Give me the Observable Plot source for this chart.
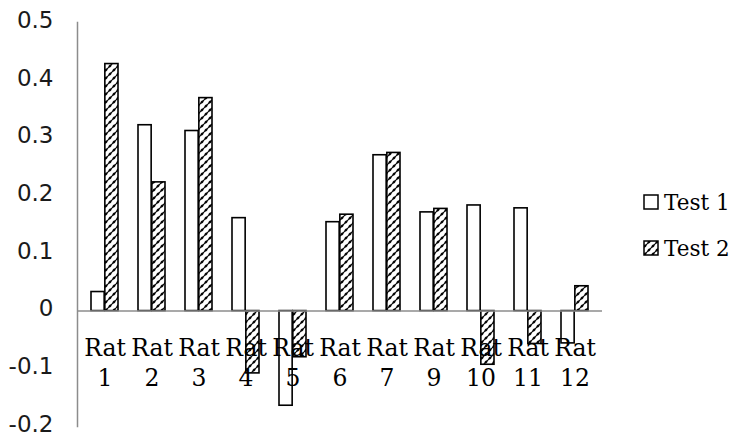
<!DOCTYPE html>
<html>
<head>
<meta charset="utf-8">
<script src="https://cdn.jsdelivr.net/npm/d3@7"></script>
<script src="https://cdn.jsdelivr.net/npm/@observablehq/plot@0.6"></script>
<style>
  html, body { margin: 0; padding: 0; background: #fff; }
  #wrap { position: relative; width: 734px; height: 436px; }
  #legend { position: absolute; left: 643px; top: 0; font-family: "DejaVu Serif", serif; font-size: 21.5px; color: #000; }
  .item { position: absolute; left: 0; white-space: nowrap; display: flex; align-items: center; }
  .item svg { margin-right: 5px; }
</style>
</head>
<body>
<svg width="0" height="0" style="position:absolute">
  <defs>
    <pattern id="hatch" patternUnits="userSpaceOnUse" width="8" height="8">
      <rect width="8" height="8" fill="white"/>
      <path d="M-1,1 l2,-2 M0,8 l8,-8 M7,9 l2,-2" stroke="black" stroke-width="1.1"/>
      <path d="M1,7 l2,-2 M5,3 l2,-2" stroke="black" stroke-width="2.2"/>
    </pattern>
  </defs>
</svg>
<div id="wrap">
  <div id="chart"></div>
  <div id="legend"></div>
</div>
<script>
const rats = ["Rat 1","Rat 2","Rat 3","Rat 4","Rat 5","Rat 6","Rat 7","Rat 9","Rat 10","Rat 11","Rat 12"];
const test1 = [0.033, 0.322, 0.312, 0.161, -0.164, 0.154, 0.270, 0.171, 0.183, 0.178, -0.056];
const test2 = [0.428, 0.223, 0.369, -0.108, -0.080, 0.167, 0.274, 0.177, -0.093, -0.057, 0.043];
const seriesNames = ["Test 1", "Test 2"];
const yTicks = [-0.2, -0.1, 0, 0.1, 0.2, 0.3, 0.4, 0.5];
const yTickLabels = ["-0.2", "-0.1", "0", "0.1", "0.2", "0.3", "0.4", "0.5"];

const W = 734, H = 436;
const mL = 77, mR = 132, mT = 22, mB = 10;
const pInner = 0.42, pOuter = 0.21;
const step = (W - mL - mR) / (rats.length - pInner + 2 * pOuter);
const bw = step * (1 - pInner);

const chart = Plot.plot({
  width: W,
  height: H,
  marginLeft: mL,
  marginRight: mR,
  marginTop: mT,
  marginBottom: mB,
  style: { background: "white", overflow: "visible" },
  x: { domain: rats, paddingInner: pInner, paddingOuter: pOuter, axis: null },
  y: { domain: [-0.2, 0.5], axis: null },
  marks: [
    Plot.barY(rats, { x: d => d, y: (d, i) => test1[i], insetRight: bw / 2, fill: "white", stroke: "black", strokeWidth: 1.6 }),
    Plot.barY(rats, { x: d => d, y: (d, i) => test2[i], insetLeft: bw / 2, fill: "url(#hatch)", stroke: "black", strokeWidth: 1.6 }),
    Plot.ruleY([0], { stroke: "#8c8c8c", strokeWidth: 1.5 }),
    Plot.frame({ anchor: "left", stroke: "#8c8c8c", strokeWidth: 1.5 }),
    Plot.axisY({ ticks: yTicks, tickFormat: (d) => yTickLabels[yTicks.indexOf(d)], tickSize: 0, tickPadding: 24, fontSize: 23, fontFamily: "DejaVu Sans", fill: "#1a1a1a", label: null, dy: -2 }),
    Plot.text(rats, { x: d => d, y: () => 0, text: d => d.replace(" ", "\n"), dy: 50, lineAnchor: "middle", lineHeight: 1.3, fontSize: 23.5, fontFamily: "DejaVu Serif", fill: "#000" })
  ]
});
document.getElementById("chart").appendChild(chart);

const legend = document.getElementById("legend");
const legendY = [202, 248];
seriesNames.forEach((name, i) => {
  const item = document.createElement("div");
  item.className = "item";
  item.style.top = (legendY[i] - 13) + "px";
  item.style.height = "26px";
  const fill = i === 0 ? "white" : "url(#hatch)";
  item.innerHTML = `<svg width="16" height="16"><rect x="1" y="1" width="14" height="14" fill="${fill}" stroke="black" stroke-width="1.5"/></svg><span>${name}</span>`;
  legend.appendChild(item);
});
</script>
</body>
</html>
